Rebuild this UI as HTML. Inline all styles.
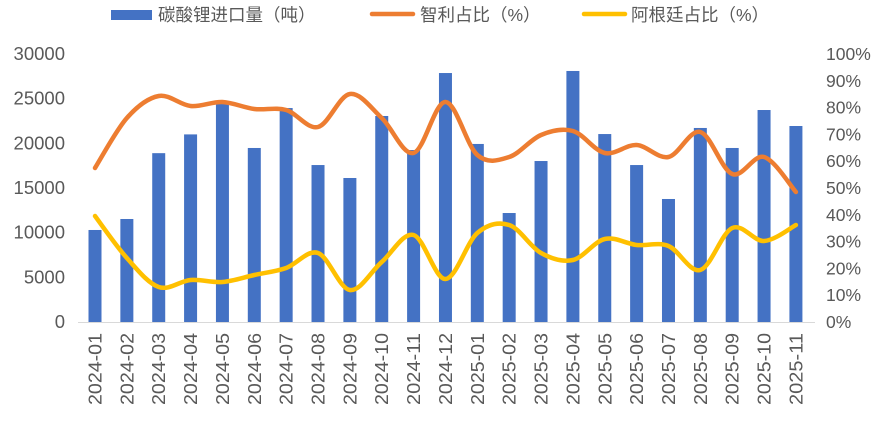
<!DOCTYPE html><html><head><meta charset="utf-8"><style>
body{margin:0;background:#fff;width:878px;height:421px;overflow:hidden}
svg text{font-family:"Liberation Sans","Noto Sans CJK SC",sans-serif;fill:#595959}
</style></head><body>
<svg id="s" width="878" height="421" xmlns="http://www.w3.org/2000/svg"></svg>
<script>
(function(){
var s=document.getElementById('s'),h='';
var bars=[10300,11530,18900,21000,24400,19480,23950,17570,16120,23060,19250,27870,19930,12200,18020,28100,21040,17570,13770,21720,19480,23730,21940];
var org=[168,118,96,106,102,109,110,127,94,118,153,102,155,157,135,131,153,145,157,132,174,157,192];
var yel=[216,258,287,280,282,275,268,253,290,262,235,279,233,225,253,260,239,245,246,270,228,241,225];
var y0=322,yt=54,x0=95,dx=31.86;
h+='<line x1="78" y1="322.5" x2="815" y2="322.5" stroke="#d9d9d9"/>';
for(var i=0;i<=6;i++){var y=y0-i*(y0-yt)/6;h+='<text x="65" y="'+(y+6)+'" font-size="18.5" text-anchor="end">'+(i*5000)+'</text>';}
for(var i=0;i<=10;i++){var y=y0-i*(y0-yt)/10;h+='<text x="826" y="'+(y+6)+'" font-size="17.5">'+(i*10)+'%</text>';}
var labs=[];for(var i=0;i<23;i++){var yr=i<12?2024:2025,m=i<12?i+1:i-11;labs.push(yr+'-'+(m<10?'0':'')+m);}
bars.forEach(function(v,i){var x=x0+i*dx,bh=v/30000*(y0-yt);h+='<rect x="'+(x-6.5)+'" y="'+(y0-bh)+'" width="13" height="'+bh+'" fill="#4472c4"/>';
h+='<text transform="translate('+(x+6.5)+',405) rotate(-90)" font-size="18" textLength="72" lengthAdjust="spacingAndGlyphs">'+labs[i]+'</text>';});
function path(a){var p=a.map(function(y,i){return [x0+i*dx,y]});var d='M'+p[0][0]+','+p[0][1];
for(var i=0;i<p.length-1;i++){var a0=p[i-1]||p[i],a1=p[i],a2=p[i+1],a3=p[i+2]||p[i+1];
d+=' C'+(a1[0]+(a2[0]-a0[0])/6)+','+(a1[1]+(a2[1]-a0[1])/6)+' '+(a2[0]-(a3[0]-a1[0])/6)+','+(a2[1]-(a3[1]-a1[1])/6)+' '+a2[0]+','+a2[1];}return d;}
h+='<path d="'+path(org)+'" fill="none" stroke="#ed7d31" stroke-width="4.5" stroke-linecap="round"/>';
h+='<path d="'+path(yel)+'" fill="none" stroke="#ffc000" stroke-width="4.5" stroke-linecap="round"/>';
h+='<rect x="111" y="10" width="41" height="10" fill="#4472c4"/><text x="158" y="21" font-size="17.5">碳酸锂进口量（吨）</text>';
h+='<line x1="372" y1="14" x2="413" y2="14" stroke="#ed7d31" stroke-width="4.5" stroke-linecap="round"/><text x="420" y="21" font-size="17.5">智利占比（%）</text>';
h+='<line x1="584" y1="14" x2="625" y2="14" stroke="#ffc000" stroke-width="4.5" stroke-linecap="round"/><text x="631" y="21" font-size="17.5">阿根廷占比（%）</text>';
s.innerHTML=h;
})();
</script></body></html>
